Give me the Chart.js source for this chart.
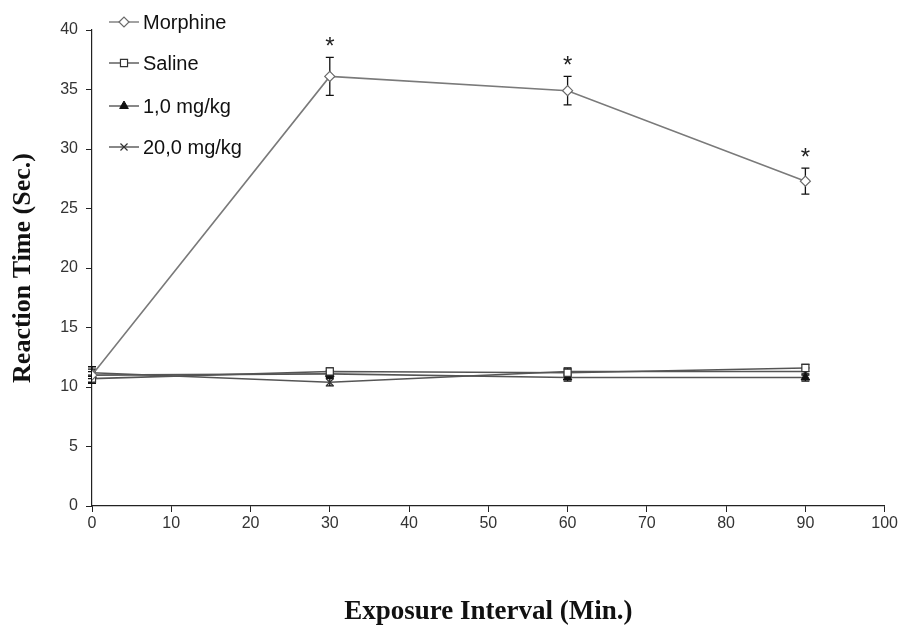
<!DOCTYPE html>
<html>
<head>
<meta charset="utf-8">
<script src="https://cdn.jsdelivr.net/npm/chart.js@4/dist/chart.umd.min.js"></script>
<style>
  html, body { margin: 0; padding: 0; background: #fff; }
  #wrap { width: 900px; height: 628px; position: relative; }
</style>
</head>
<body>
<div id="wrap"><canvas id="c" width="900" height="628"></canvas></div>
<script>
// ---- data ----
const timesMin = [0, 30, 60, 90];
const morphine = [11.0, 36.1, 34.9, 27.3];
const morphineErr = [0.7, 1.6, 1.2, 1.1];
const saline = [10.7, 11.3, 11.2, 11.6];
const salineErr = [0.3, 0.3, 0.3, 0.3];
const dose1 = [11.0, 11.1, 10.8, 10.8];
const dose1Err = [0.3, 0.3, 0.3, 0.3];
const dose20 = [11.2, 10.4, 11.3, 11.3];
const dose20Err = [0.3, 0.3, 0.3, 0.3];
const significant = [false, true, true, true];
const seriesNames = ['Morphine', 'Saline', '1,0 mg/kg', '20,0 mg/kg'];
const xTitle = 'Exposure Interval (Min.)';
const yTitle = 'Reaction Time (Sec.)';

function pts(vals) { return timesMin.map((t, i) => ({ x: t, y: vals[i] })); }

const datasets = [
  { label: seriesNames[0], data: pts(morphine), errs: morphineErr, stars: significant,
    borderColor: '#7a7a7a', borderWidth: 1.6, pointStyle: 'rectRot', pointRadius: 5,
    pointBackgroundColor: '#ffffff', pointBorderColor: '#6a6a6a', pointBorderWidth: 1.2 },
  { label: seriesNames[1], data: pts(saline), errs: salineErr,
    borderColor: '#555555', borderWidth: 1.6, pointStyle: 'rect', pointRadius: 5,
    pointBackgroundColor: '#ffffff', pointBorderColor: '#333333', pointBorderWidth: 1.2 },
  { label: seriesNames[2], data: pts(dose1), errs: dose1Err,
    borderColor: '#555555', borderWidth: 1.6, pointStyle: 'triangle', pointRadius: 5,
    pointBackgroundColor: '#111111', pointBorderColor: '#111111', pointBorderWidth: 1 },
  { label: seriesNames[3], data: pts(dose20), errs: dose20Err,
    borderColor: '#555555', borderWidth: 1.6, pointStyle: 'crossRot', pointRadius: 5,
    pointBackgroundColor: '#333333', pointBorderColor: '#333333', pointBorderWidth: 1.2 }
];

const errorBars = {
  id: 'errorBars',
  beforeDatasetsDraw(chart) {
    const ctx = chart.ctx;
    const xs = chart.scales.x, ys = chart.scales.y;
    ctx.save();
    ctx.strokeStyle = '#111';
    ctx.lineWidth = 1.3;
    chart.data.datasets.forEach(ds => {
      if (!ds.errs) return;
      ds.data.forEach((p, i) => {
        const e = ds.errs[i];
        const px = xs.getPixelForValue(p.x);
        const top = ys.getPixelForValue(p.y + e);
        const bot = ys.getPixelForValue(p.y - e);
        ctx.beginPath();
        ctx.moveTo(px, top); ctx.lineTo(px, bot);
        ctx.moveTo(px - 4, top); ctx.lineTo(px + 4, top);
        ctx.moveTo(px - 4, bot); ctx.lineTo(px + 4, bot);
        ctx.stroke();
      });
    });
    ctx.restore();
  },
  afterDatasetsDraw(chart) {
    const ctx = chart.ctx;
    const xs = chart.scales.x, ys = chart.scales.y;
    ctx.save();
    ctx.fillStyle = '#222';
    ctx.font = '24px "Liberation Sans", Arial, sans-serif';
    ctx.textAlign = 'center';
    ctx.textBaseline = 'middle';
    chart.data.datasets.forEach(ds => {
      if (!ds.stars) return;
      ds.data.forEach((p, i) => {
        if (!ds.stars[i]) return;
        const px = xs.getPixelForValue(p.x);
        const top = ys.getPixelForValue(p.y + ds.errs[i]);
        ctx.fillText('*', px, top - 10);
      });
    });
    ctx.restore();
  }
};

const customLegend = {
  id: 'customLegend',
  afterDraw(chart) {
    const ctx = chart.ctx;
    const x0 = 109, x1 = 139, tx = 143;
    const rows = [22, 63, 106, 147];
    ctx.save();
    chart.data.datasets.forEach((ds, i) => {
      const y = rows[i];
      ctx.strokeStyle = ds.borderColor;
      ctx.lineWidth = 1.4;
      ctx.beginPath(); ctx.moveTo(x0, y); ctx.lineTo(x1, y); ctx.stroke();
      const opts = { pointStyle: ds.pointStyle, radius: 5, borderWidth: ds.pointBorderWidth, rotation: 0 };
      ctx.fillStyle = ds.pointBackgroundColor;
      ctx.strokeStyle = ds.pointBorderColor;
      ctx.lineWidth = ds.pointBorderWidth;
      if (Chart.helpers && Chart.helpers.drawPoint) {
        Chart.helpers.drawPoint(ctx, opts, (x0 + x1) / 2, y);
      }
      ctx.fillStyle = '#111';
      ctx.font = '20px "Liberation Sans", Arial, sans-serif';
      ctx.textAlign = 'left';
      ctx.textBaseline = 'middle';
      ctx.fillText(ds.label, tx, y + 1);
    });
    ctx.restore();
  }
};

new Chart(document.getElementById('c'), {
  type: 'line',
  data: { datasets },
  options: {
    responsive: false,
    animation: false,
    parsing: true,
    layout: { padding: { top: 30, right: 15, bottom: 0, left: 0 } },
    plugins: { legend: { display: false }, tooltip: { enabled: false } },
    elements: { line: { tension: 0 } },
    scales: {
      x: {
        type: 'linear', min: 0, max: 100,
        ticks: { stepSize: 10, color: '#333', padding: 2,
          font: { family: '"Liberation Sans", Arial, sans-serif', size: 16 } },
        grid: { display: true, drawOnChartArea: false, drawTicks: true, tickLength: 6, color: '#222', lineWidth: 1 },
        border: { display: true, color: '#222', width: 1.2 },
        title: { display: true, text: xTitle, color: '#111', padding: { top: 0, bottom: 0 },
          font: { family: '"Liberation Serif", "Times New Roman", serif', size: 27, weight: 'bold' } },
        afterFit(scale) { scale.height = 122; }
      },
      y: {
        type: 'linear', min: 0, max: 40,
        ticks: { stepSize: 5, color: '#333', padding: 8,
          font: { family: '"Liberation Sans", Arial, sans-serif', size: 16 } },
        grid: { display: true, drawOnChartArea: false, drawTicks: true, tickLength: 6, color: '#222', lineWidth: 1 },
        border: { display: true, color: '#222', width: 1.2 },
        title: { display: true, text: yTitle, color: '#111', padding: { top: 8, bottom: 0 },
          font: { family: '"Liberation Serif", "Times New Roman", serif', size: 26, weight: 'bold' } },
        afterFit(scale) { scale.width = 92; }
      }
    }
  },
  plugins: [errorBars, customLegend]
});
</script>
</body>
</html>
